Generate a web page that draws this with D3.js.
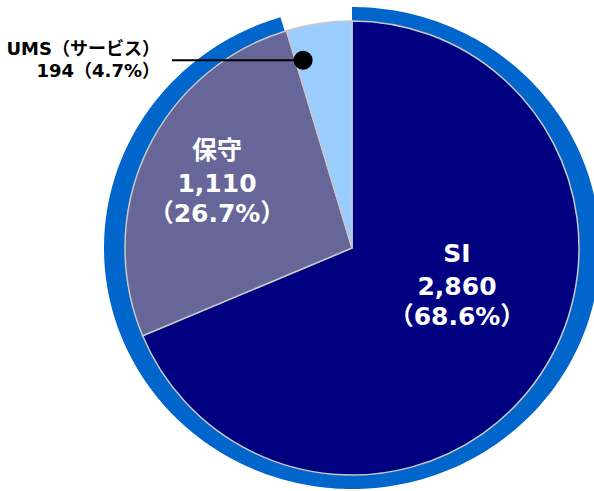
<!DOCTYPE html>
<html>
<head>
<meta charset="utf-8">
<script src="https://cdn.jsdelivr.net/npm/d3@7"></script>
<style>
  html, body { margin: 0; padding: 0; background: #fff; }
  svg { display: block; }
  text { font-family: "DejaVu Sans", "Noto Sans CJK JP", sans-serif; font-weight: bold; }
</style>
</head>
<body>
<svg id="chart" width="594" height="491"></svg>
<script>
// Sales breakdown by segment
const categories = ["SI", "保守", "UMS（サービス）"];
const values = [2860, 1110, 194];
const shareLabels = ["68.6%", "26.7%", "4.7%"];
const colors = ["#000080", "#666699", "#99ccff"];
const ringColor = "#0066cc";

const width = 594, height = 491;
const cx = 352, cy = 248;
const R = 227;          // pie radius
const ringRx = 248, ringRy = 241;  // outer ellipse of the surrounding band

const svg = d3.select("#chart");
const g = svg.append("g").attr("transform", `translate(${cx},${cy})`);

const data = categories.map((c, i) => ({ name: c, value: values[i], share: shareLabels[i], color: colors[i] }));
const pie = d3.pie().value(d => d.value).sort(null);
const arcs = pie(data);
const arc = d3.arc().innerRadius(0).outerRadius(R);

// Outer band behind SI and 保守 (stops where the UMS slice begins)
const bandEnd = arcs[2].startAngle;
const bandPts = [[0, 0]].concat(
  d3.range(0, 361).map(k => {
    const a = bandEnd * k / 360;
    return [ringRx * Math.sin(a), -ringRy * Math.cos(a)];
  })
);
g.append("path")
  .attr("d", d3.line()(bandPts) + "Z")
  .attr("fill", ringColor);

// Slices
g.selectAll("path.slice")
  .data(arcs)
  .join("path")
  .attr("class", "slice")
  .attr("d", arc)
  .attr("fill", d => d.data.color)
  .attr("stroke", "#c8c8c8")
  .attr("stroke-width", 1.5);

const fmt = d3.format(",");

// Labels inside the two large slices
const inside = [
  { d: arcs[0], x: 105, y: 46 },
  { d: arcs[1], x: -135, y: -57 }
];
inside.forEach(({ d, x, y }) => {
  const t = g.append("text")
    .attr("text-anchor", "middle")
    .attr("fill", "#fff")
    .attr("font-size", 25)
    .attr("x", x)
    .attr("y", y);
  t.append("tspan").attr("x", x).attr("dy", "-1.3em").text(d.data.name);
  t.append("tspan").attr("x", x).attr("dy", "1.35em").text(fmt(d.data.value));
  t.append("tspan").attr("x", x).attr("dy", "1.2em").text("（" + d.data.share + "）");
});

// Leader line and callout for the small UMS slice
const ums = arcs[2];
const anchorAngle = ums.startAngle + 0.13 * (ums.endAngle - ums.startAngle);
const [ax, ay] = d3.pointRadial(anchorAngle, 0.855 * R);
g.append("line")
  .attr("x1", 172 - cx).attr("y1", ay)
  .attr("x2", ax).attr("y2", ay)
  .attr("stroke", "#000").attr("stroke-width", 2);
g.append("circle")
  .attr("cx", ax).attr("cy", ay).attr("r", 9.5)
  .attr("fill", "#000");

const callout = svg.append("text")
  .attr("text-anchor", "end")
  .attr("fill", "#000")
  .attr("font-size", 18);
callout.append("tspan").attr("x", 160).attr("y", 55).text(ums.data.name);
callout.append("tspan").attr("x", 160).attr("y", 77).text(fmt(ums.data.value) + "（" + ums.data.share + "）");
</script>
</body>
</html>
